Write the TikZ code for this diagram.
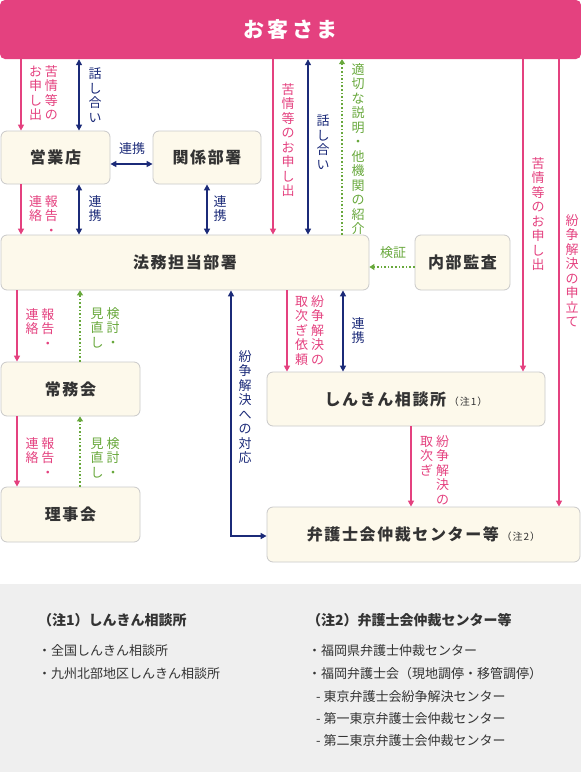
\documentclass[tikz,border=0pt]{standalone}
\usepackage{fontspec}
\setmainfont{Noto Sans CJK JP}
\usetikzlibrary{arrows.meta,positioning}
\definecolor{rose}{HTML}{E4417F}
\definecolor{navy}{HTML}{1B2A78}
\definecolor{leaf}{HTML}{68A83C}
\definecolor{cream}{HTML}{FDF9EB}
\definecolor{frame}{HTML}{C9C9C9}
\definecolor{ink}{HTML}{333333}
\definecolor{notebg}{HTML}{EFEFEF}
\newcommand{\boxfont}{\fontsize{16}{18}\selectfont\bfseries\addfontfeature{LetterSpace=10}}
\newcommand{\lblfont}{\fontsize{13}{15}\selectfont}
\newcommand{\chufont}{\fontsize{10}{12}\selectfont\mdseries}
\makeatletter
% one column of vertical text
\newcommand{\tategaki}[1]{\vtop{\baselineskip=14.5pt\lineskiplimit=-10pt
  \@tfor\tg@c:=#1\do{\hbox to 13pt{\hss\tg@c\hss}}}}
\makeatother
% two columns, the first one read on the right
\newcommand{\tatepair}[2]{\hbox{\tategaki{#2}\hskip3pt\tategaki{#1}}}

\begin{document}
\begin{tikzpicture}[x=1pt,y=-1pt,
  box/.style={draw=frame,fill=cream,rounded corners=6pt,line width=0.8pt,
    text=ink,font=\boxfont,inner sep=0pt},
  pk/.style={draw=rose,line width=1.6pt,-{Triangle[length=6pt,width=6pt]}},
  nv/.style={draw=navy,line width=1.6pt,
    {Triangle[length=6pt,width=6pt]}-{Triangle[length=6pt,width=6pt]}},
  gr/.style={draw=leaf,line width=1.6pt,dash pattern=on 1.6pt off 2pt,
    -{Triangle[length=5pt,width=6pt]}},
  lbl/.style={font=\lblfont,inner sep=0pt,anchor=north},
  pklbl/.style={lbl,text=rose},
  nvlbl/.style={lbl,text=navy},
  grlbl/.style={lbl,text=leaf},
  notehead/.style={font=\fontsize{14}{16}\selectfont\bfseries,text=ink,inner sep=0pt,anchor=west},
  noteitem/.style={font=\fontsize{13}{15}\selectfont,text=ink,inner sep=0pt,anchor=west}
]
\useasboundingbox (0,0) rectangle (581,772);
\fill[notebg] (0,584) rectangle (581,772);

% boxes
\node[fill=rose,rounded corners=5pt,minimum width=581pt,minimum height=59pt,inner sep=0pt,
  text=white,font=\fontsize{21}{24}\selectfont\bfseries\addfontfeature{LetterSpace=15}]
  (kyaku) at (290.5,29.5) {お客さま};
\node[box,minimum width=109pt,minimum height=53pt] (eigyo) at (55.5,157.5) {営業店};
\node[box,minimum width=108pt,minimum height=53pt] (kankei) at (207,157.5) {関係部署};
\node[box,minimum width=368pt,minimum height=55pt] (homu) at (185,262.5) {法務担当部署};
\node[box,minimum width=95pt,minimum height=55pt] (kansa) at (462.5,262.5) {内部監査};
\node[box,minimum width=139pt,minimum height=54pt] (jomu) at (70.5,389) {常務会};
\node[box,minimum width=139pt,minimum height=55pt] (riji) at (70.5,514.5) {理事会};
\node[box,minimum width=278pt,minimum height=54pt] (soudan) at (406,399)
  {しんきん相談所\,{\chufont（注1）}};
\node[box,minimum width=313pt,minimum height=55pt] (bengo) at (423.5,534.5)
  {弁護士会仲裁センター等\,{\chufont（注2）}};

% connectors
\draw[pk] ([xshift=-34.5pt]eigyo.north |- kyaku.south) -- ([xshift=-34.5pt]eigyo.north);
\draw[nv] ([xshift=23.5pt]eigyo.north |- kyaku.south) -- ([xshift=23.5pt]eigyo.north);
\draw[nv] ([yshift=-6.5pt]eigyo.east) -- ([yshift=-6.5pt]eigyo.east -| kankei.west);
\draw[pk] ([xshift=-34.5pt]eigyo.south) -- ([xshift=-34.5pt]eigyo.south |- homu.north);
\draw[nv] ([xshift=23.5pt]eigyo.south) -- ([xshift=23.5pt]eigyo.south |- homu.north);
\draw[nv] (kankei.south) -- (kankei.south |- homu.north);
\draw[pk] ([xshift=88pt]homu.north |- kyaku.south) -- ([xshift=88pt]homu.north);
\draw[nv] ([xshift=123pt]homu.north |- kyaku.south) -- ([xshift=123pt]homu.north);
\draw[gr] ([xshift=157pt]homu.north) -- ([xshift=157pt]homu.north |- kyaku.south);
\draw[pk] ([xshift=117pt]soudan.north |- kyaku.south) -- ([xshift=117pt]soudan.north);
\draw[pk] ([xshift=135.5pt]bengo.north |- kyaku.south) -- ([xshift=135.5pt]bengo.north);
\draw[gr] ([yshift=-4.5pt]kansa.west) -- ([yshift=-4.5pt]kansa.west -| homu.east);
\draw[pk] ([xshift=-53.5pt]jomu.north |- homu.south) -- ([xshift=-53.5pt]jomu.north);
\draw[gr] ([xshift=9.5pt]jomu.north) -- ([xshift=9.5pt]jomu.north |- homu.south);
\draw[pk] ([xshift=-53.5pt]jomu.south) -- ([xshift=-53.5pt]riji.north);
\draw[gr] ([xshift=9.5pt]riji.north) -- ([xshift=9.5pt]jomu.south);
\draw[nv] ([xshift=46pt]homu.south) |- ([yshift=-1.5pt]bengo.west);
\draw[pk] ([xshift=-119pt]soudan.north |- homu.south) -- ([xshift=-119pt]soudan.north);
\draw[nv] ([xshift=-63pt]soudan.north |- homu.south) -- ([xshift=-63pt]soudan.north);
\draw[pk] ([xshift=5pt]soudan.south) -- ([xshift=5pt]soudan.south |- bengo.north);

% labels
\node[pklbl] (kujo1) at (43.5,65) {\tatepair{苦情等の}{お申し出}};
\node[nvlbl] (hanashi1) at (95,68) {\tategaki{話し合い}};
\node[nvlbl,anchor=center] (renkei1) at (132,149) {連携};
\node[pklbl] (houkoku1) at (43.5,195) {\tatepair{報告・}{連絡}};
\node[nvlbl] (renkei2) at (95,195) {\tategaki{連携}};
\node[nvlbl] (renkei3) at (220,195) {\tategaki{連携}};
\node[pklbl] (kujo2) at (288,83) {\tategaki{苦情等のお申し出}};
\node[nvlbl] (hanashi2) at (323,115) {\tategaki{話し合い}};
\node[grlbl] (setsumei) at (358,63) {\tategaki{適切な説明・他機関の紹介}};
\node[pklbl] (kujo3) at (538,157) {\tategaki{苦情等のお申し出}};
\node[pklbl] (moushitate) at (572,214) {\tategaki{紛争解決の申立て}};
\node[grlbl,anchor=center] (kensho) at (393,253) {検証};
\node[pklbl] (houkoku2) at (40,308) {\tatepair{報告・}{連絡}};
\node[grlbl] (kento1) at (105,307) {\tatepair{検討・}{見直し}};
\node[pklbl] (houkoku3) at (40,437) {\tatepair{報告・}{連絡}};
\node[grlbl] (kento2) at (105,437) {\tatepair{検討・}{見直し}};
\node[nvlbl] (taiou) at (245,350) {\tategaki{紛争解決への対応}};
\node[pklbl] (toritsugi1) at (309.5,295) {\tatepair{紛争解決の}{取次ぎ依頼}};
\node[nvlbl] (renkei4) at (358,317) {\tategaki{連携}};
\node[pklbl] (toritsugi2) at (434.5,435) {\tatepair{紛争解決の}{取次ぎ}};

% notes
\node[notehead] (chu1) at (38,620) {（注1）しんきん相談所};
\node[noteitem] (zenkoku) at (38,651) {・全国しんきん相談所};
\node[noteitem] (kyushu) at (38,674) {・九州北部地区しんきん相談所};
\node[notehead] (chu2) at (307,620) {（注2）弁護士会仲裁センター等};
\node[noteitem] (fukuoka1) at (308,651) {・福岡県弁護士仲裁センター};
\node[noteitem] (fukuoka2) at (308,674) {・福岡弁護士会（現地調停・移管調停）};
\node[noteitem] (tokyo1) at (316,697) {- 東京弁護士会紛争解決センター};
\node[noteitem] (tokyo2) at (316,719) {- 第一東京弁護士会仲裁センター};
\node[noteitem] (tokyo3) at (316,741) {- 第二東京弁護士会仲裁センター};
\end{tikzpicture}
\end{document}
